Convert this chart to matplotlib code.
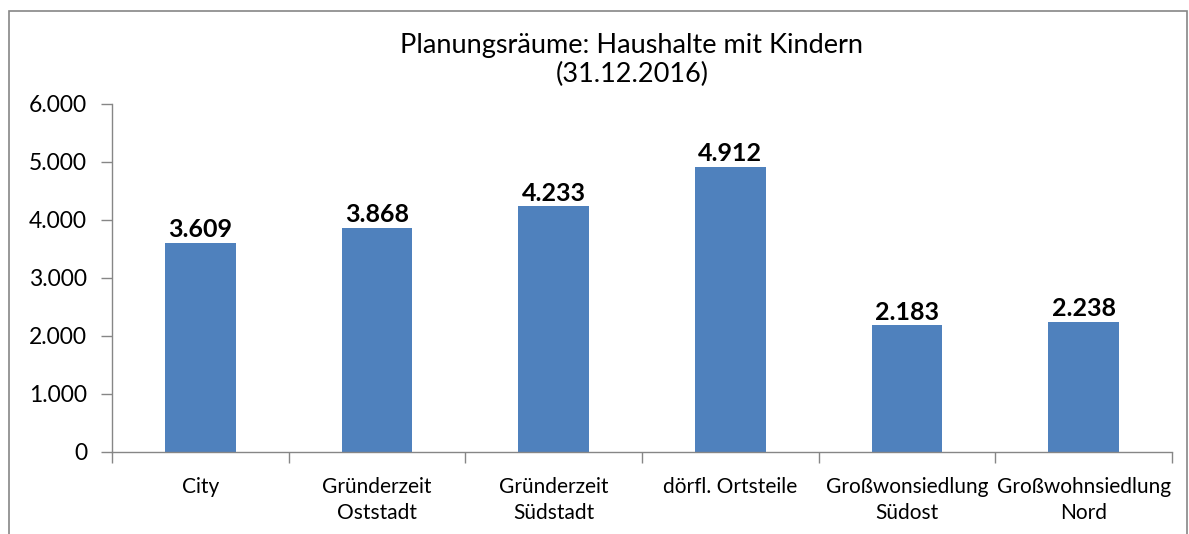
import matplotlib
matplotlib.use("Agg")
import matplotlib.pyplot as plt
from matplotlib.patches import Rectangle

categories = ["City", "Gründerzeit\nOststadt", "Gründerzeit\nSüdstadt", "dörfl. Ortsteile",
              "Großwonsiedlung\nSüdost", "Großwohnsiedlung\nNord"]
values = [3609, 3868, 4233, 4912, 2183, 2238]
yticks = [0, 1000, 2000, 3000, 4000, 5000, 6000]
ytick_labels = ["0", "1.000", "2.000", "3.000", "4.000", "5.000", "6.000"]
title = "Planungsräume: Haushalte mit Kindern\n(31.12.2016)"

plt.rcParams['font.family'] = ['Lato', 'DejaVu Sans']
fig = plt.figure(figsize=(11.89, 5.34), dpi=100)
ax = fig.add_axes([112/1189, 1-452/534, (1172-112)/1189, (452-104)/534])

x = list(range(len(categories)))
ax.bar(x, values, width=0.4, color="#4F81BD", zorder=2)
for xi, v in zip(x, values):
    ax.text(xi, v + 30, f"{v:,}".replace(",", "."), ha="center", va="bottom",
            fontsize=18, fontweight="bold", color="black")

ax.set_xlim(-0.5, len(categories) - 0.5)
ax.set_ylim(0, 6000)
ax.set_yticks(yticks)
ax.set_yticklabels(ytick_labels, fontsize=16.5)
ax.set_xticks(x)
ax.set_xticklabels(categories, fontsize=15, linespacing=1.35)
ax.tick_params(axis="x", length=0, pad=18)
ax.set_xticks([i - 0.5 for i in range(len(categories) + 1)], minor=True)
ax.tick_params(axis="x", which="minor", length=8, color="#868686", width=1)
ax.tick_params(axis="y", length=8, color="#868686", width=1, pad=10)
for s in ["top", "right"]:
    ax.spines[s].set_visible(False)
for s in ["left", "bottom"]:
    ax.spines[s].set_color("#868686")
    ax.spines[s].set_linewidth(1)

fig.text(632/1189, 1-60/534, title, ha="center", va="center", fontsize=19.5, linespacing=1.2)

fig.patches.append(Rectangle((9/1189, -0.1), (1187-9)/1189, 1.1-11/534,
                             transform=fig.transFigure, fill=False,
                             edgecolor="#868686", linewidth=1.2))

fig.savefig("out.png", dpi=100)
